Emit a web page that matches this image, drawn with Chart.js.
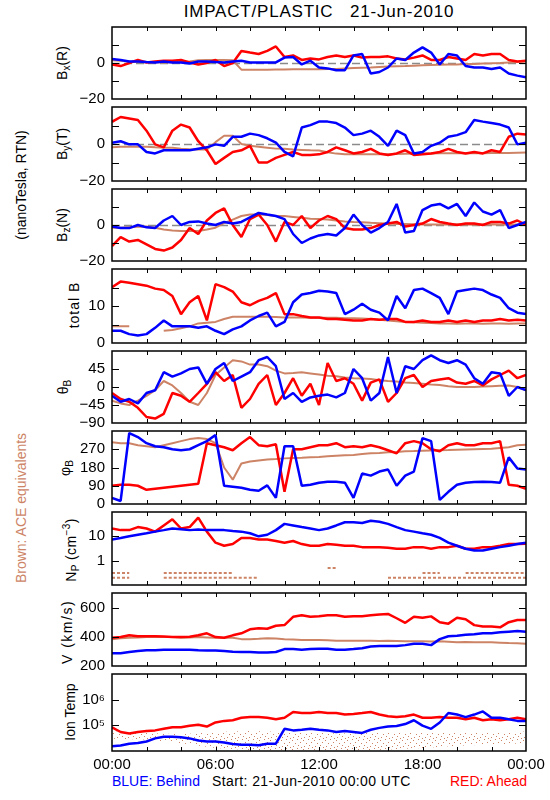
<!DOCTYPE html>
<html><head><meta charset="utf-8">
<script src="https://cdn.jsdelivr.net/npm/chart.js"></script>
<style>
html,body{margin:0;padding:0;background:#fff;}
#wrap{position:relative;width:550px;height:800px;overflow:hidden;background:#fff;font-family:"Liberation Sans",Arial,sans-serif;color:#000;}
canvas{position:absolute;left:0;}
.txt{position:absolute;white-space:pre;font-size:14px;line-height:14px;}
.rot{position:absolute;white-space:pre;font-size:14px;line-height:1;transform:translate(-50%,-50%) rotate(-90deg);}
.rot sub{font-size:10px;vertical-align:-3px;line-height:0;}
.rot sup{font-size:10px;vertical-align:6px;line-height:0;}
</style></head><body>
<div id="wrap">
<div class="txt" style="left:112px;width:414px;top:3px;font-size:17px;line-height:18px;text-align:center;letter-spacing:0.8px;">IMPACT/PLASTIC   21-Jun-2010</div>
<div class="rot" style="left:21px;top:185px;">(nanoTesla, RTN)</div>
<div class="rot" style="left:21px;top:508px;color:rgb(205,132,102);">Brown: ACE equivalents</div>
<div class="rot" style="left:62px;top:63px;">B<sub>x</sub>(R)</div>
<div class="rot" style="left:62px;top:144px;">B<sub>y</sub>(T)</div>
<div class="rot" style="left:62px;top:225px;">B<sub>z</sub>(N)</div>
<div class="rot" style="left:74px;top:305px;letter-spacing:1px;">total B</div>
<div class="rot" style="left:63px;top:387px;">θ<sub>B</sub></div>
<div class="rot" style="left:65px;top:468px;">φ<sub>B</sub></div>
<div class="rot" style="left:71px;top:550px;letter-spacing:0.4px;">N<sub>P</sub> (cm<sup>−3</sup>)</div>
<div class="rot" style="left:67px;top:632px;letter-spacing:1.5px;">V (km/s)</div>
<div class="rot" style="left:70px;top:712px;">Ion Temp</div>
<div class="txt" style="left:112px;top:774px;color:#0000ff;">BLUE: Behind</div>
<div class="txt" style="left:212px;top:774px;letter-spacing:0.4px;">Start: 21-Jun-2010 00:00 UTC</div>
<div class="txt" style="left:450px;top:774px;color:#ff0000;">RED: Ahead</div>
</div>
<script>
// ---- time axis (hours since 21-Jun-2010 00:00 UTC) ----
const HRS=[0,0.5,1,1.5,2,2.5,3,3.5,4,4.5,5,5.5,6,6.5,7,7.5,8,8.5,9,9.5,10,10.5,11,11.5,12,12.5,13,13.5,14,14.5,15,15.5,16,16.5,17,17.5,18,18.5,19,19.5,20,20.5,21,21.5,22,22.5,23,23.5,24];
const HRS2=[0,2,4,6,8,10,12,14,16,18,20,22,24];
const X_TICK_HOURS=[2,4,6,8,10,12,14,16,18,20,22];
const X_LABEL_HOURS=[0,6,12,18,24];
const X_LABELS=['00:00','06:00','12:00','18:00','00:00'];

// ---- Bx (R) nT ----
const bxBehind=[2.2,1.7,0.8,0.8,0.5,0.3,0.8,0.3,0.3,-0.3,0.8,0.8,0.5,0.3,0.8,1.3,0.3,0.3,0.3,0.3,3,3.3,-0.8,1.3,-2.5,-3,-4,-4,4.2,5,-5.8,-5,-2.5,2.5,1.7,5.8,8.7,5.8,-0.8,5,4.2,-1.7,-2.5,-2.5,-3.3,-2.5,-5.8,-7,-8];
const bxAhead=[-0.8,-1.7,0,1.7,0.3,0.8,1.3,1.3,1.7,0.3,-0.8,0,1.7,-1.7,0,6.7,5.8,5,6.7,9.2,3.3,4.2,1.7,2.5,2,3.3,4.2,3.3,4.2,3,3.3,3.3,3.7,2.5,2,3,4.2,1.7,1.7,3.3,2.5,1.7,5,4.2,5,5,1.7,0.8,1.3];
const bxACE=[1.5,1.2,0.8,0.6,0.5,0.4,0.3,0.4,0.5,0.8,1.5,1.6,1.7,1.6,1.5,-3.7,-3.7,-3.7,-3.7,-3.6,-3.6,-3.5,-3.5,-3.5,-3.5,-3.4,-3.3,-3,-2.8,-2.6,-2.5,-2.2,-2,-1.8,-1.7,-1.5,-1.3,-1.1,-1,-0.9,-0.8,-0.6,-0.5,-0.3,-0.2,0,0.3,0.5,0.8];
// ---- By (T) nT ----
const byBehind=[0.7,1.5,-0.2,-0.2,-4.3,-5.1,-3.4,-3.4,-3.4,-3.4,-2.6,-1.8,-0.2,-1,3.9,3.9,5.6,4.8,3.1,0.7,-4.3,-6.7,8.9,10.2,12.1,12.1,11.3,8.9,4.8,5.6,7.2,3.9,-1,7.2,4.8,-5.1,-4.3,-1,0.7,3.9,4.8,6.4,13,12.1,11.3,10.5,8.9,-0.2,0.7];
const byAhead=[12,14.6,13.8,13,7.2,-0.2,-1.8,7.2,10.5,8.9,1.5,-3.4,-10.8,-7.5,-4.3,-3.4,-1,-10,-10,-7.5,-5.9,-4.3,-5.9,-5.9,-5.6,-4.3,-1.8,-3.4,-5.1,-4.3,-2.6,-5.1,-5.9,-5.1,-3.4,-5.9,-5.6,-5.1,-4.3,-2.6,-4.3,-5.1,-4.3,-5.1,-3.4,-4.3,3.9,5.6,5.2];
const byACE=[-1.8,-1.5,-1.5,-1.5,-1.5,-1.8,-2,-2,-2.5,-2.8,-3,-3,1,4.5,4.5,0,-1,-1.5,-2,-2.5,-2.6,-3,-3.2,-3.4,-3.5,-4.5,-5.2,-5.6,-5.6,-5.6,-5.6,-5.5,-5.5,-5.4,-5.3,-5.2,-5.1,-5.1,-5,-5,-5,-5,-5,-5,-4.9,-4.9,-4.8,-4.7,-4.6];
// ---- Bz (N) nT ----
const bzBehind=[-0.8,-1.7,-1.7,0,-1.3,-1.7,2.5,5,0,1.7,2,0.8,0,1.7,0.8,1.7,4.2,6.7,5.8,5,3.3,-5,-10,-7.5,-5.8,-5,-5.8,-1.7,5.8,0,-4.2,-1.7,1.7,11.7,-4.2,-3.3,8.3,10.8,11.7,9.2,11.7,5,12.5,7.5,5.8,8.3,-1.7,0,1.7];
const bzAhead=[-11.7,-6.7,-9.2,-8.3,-10.8,-13.3,-14.2,-12.5,-8.3,-1.7,-5,2.5,6.7,9.2,0,-6.7,3.3,5.8,0,-9.2,1.7,0,5,-1.7,2.5,5,3.3,-1.7,-2.5,-2.5,-1.7,0,0.8,1.7,-0.8,0,0.8,3.3,1.7,0.8,0,0.8,0.8,0,1.7,1.7,0.8,2.5,0];
const bzACE=[-1.5,-1.5,-1.2,-1,-0.8,-1.5,-2.5,-3,-3.3,-3.3,-3.3,-2.5,-1.5,1,3,5,5.8,5.8,5.5,5,5,4.5,4,3.5,3.3,3,2.5,2,1.7,1.5,1.2,1,0.8,0.6,0.5,0.4,0.3,0.3,0.3,0.3,0.4,0.3,0.2,0.3,0.4,0.3,0.2,0.3,0.4];
// ---- total B nT ----
const totBehind=[3.3,3.3,2.4,2,2.4,4.1,6.1,4.5,4.5,4.5,4.1,4.5,3.3,2.4,3.7,4.5,6.1,7.3,8.2,4.5,5.7,11,13.1,13.5,14.1,13.9,13.5,7.8,9,10.6,9,8.2,6.1,12.7,9.4,14.3,14.7,13.5,12.2,7.8,13.9,14.3,14.7,14.3,13.1,12.2,9.4,8.2,7.8];
const totAhead=[15.1,16.6,16.3,15.9,15.5,14.7,14.3,12.7,7.8,11,12.7,6.1,15.9,15.1,13.9,11,10.2,11.4,12.2,13.5,7.8,7.8,7.3,6.9,6.9,6.5,6.5,6.3,6.1,6.1,6.5,6.3,6.5,6.5,5.7,5.7,6.1,5.7,5.7,6.1,5.7,6.1,5.7,6.1,6.1,6.5,6.1,6.3,6.1];
const totACE=[4.5,4.5,4.5,null,null,null,3.3,3.5,4,4.5,5.3,5.5,5.7,6.5,7.1,7.1,7.1,7.1,7.1,7,6.9,6.9,6.9,6.8,6.8,6.8,6.8,6.7,6.7,6.6,6.5,6.3,6.1,5.9,5.7,5.6,5.5,5.4,5.3,5.3,5.2,5.3,5.3,5.2,5.3,5.3,5.2,5.3,5.3];
// ---- theta_B deg ----
const thBehind=[-22,-37,-30,-41,-15,-8,37,26,34,45,49,8,45,60,15,26,37,67,75,52,-30,-15,-37,-26,-22,-19,-26,-15,45,22,-34,-15,75,-15,52,45,67,79,67,60,67,56,22,8,37,34,-22,0,-8];
const thAhead=[-15,-30,-37,-52,-75,-79,-67,-15,-22,-37,-15,8,37,15,30,-52,-30,8,30,-45,-15,22,-22,8,-45,60,15,22,8,-34,11,19,-37,-15,22,30,0,15,19,22,11,8,15,4,19,30,41,22,30];
const thACE=[-34,-41,-45,-34,-22,-8,15,4,-15,-37,-45,-15,30,49,67,64,56,56,52,41,34,35,37,34,31,28,27,24,22,21,20,17,15,14,11,10,8,6,5,2,0,0,0,1,2,3,4,0,-8];
// ---- phi_B deg ----
const phBehind=[30,15,350,330,300,285,280,270,265,270,290,310,340,90,85,80,70,65,92,30,285,285,90,95,105,110,110,105,30,150,140,160,170,90,140,160,325,310,20,60,95,105,108,110,108,105,230,175,170];
const phAhead=[90,95,95,90,70,75,80,85,90,95,100,300,290,280,265,300,330,290,285,295,60,270,270,280,290,290,300,280,285,280,290,280,265,250,300,310,300,270,260,290,300,290,290,300,300,310,95,90,75];
const phACE=[305,300,300,290,285,280,290,300,310,320,325,320,300,180,120,200,210,215,220,222,225,227,228,230,232,235,238,240,242,246,250,252,255,257,260,261,263,264,265,266,268,269,270,271,272,276,280,290,292];
// ---- Np cm^-3 ----
const npBehind=[7.4,8.6,10,11.6,13.4,15.6,18,21,19.7,18,19.2,18,18,18,16.5,15.6,13.4,10,11.6,18,32.5,28,24,21,18,21,28,38,38,35.6,43.7,40,32.5,24,18,15.6,13.4,11.6,8.6,5.5,4.1,3.1,2.6,2.6,3.1,3.6,4.1,4.8,5.5];
const npAhead=[21,18,18,24,21,15.6,28,50,21,24,58.5,15.6,5.5,4.1,4.8,8.6,8.6,7.4,7.4,6.4,5.5,6.4,4.8,4.1,4.1,4.8,4.5,4.1,4.1,3.6,3.6,3.6,3.4,3.1,3.1,3.6,3.6,3.1,3.6,3.6,4.1,3.1,3.1,3.6,3.6,4.1,4.8,4.8,5];
const npACEhi=[0.31,0.31,0.31,null,null,null,0.31,0.31,0.31,0.31,0.31,0.31,0.31,0.31,0.31,null,null,null,null,null,null,null,null,null,null,0.5,0.5,null,null,null,null,null,null,null,null,null,0.31,0.31,0.31,null,null,0.31,0.31,0.31,0.31,0.31,0.31,0.31,0.31];
const npACElo=[0.2,0.2,0.2,null,null,null,0.2,0.2,0.2,0.2,0.2,0.2,0.2,0.2,0.2,0.2,0.2,0.2,null,null,null,null,null,null,null,null,null,null,null,null,null,null,0.2,0.2,0.2,0.2,0.2,0.2,0.2,0.2,0.2,0.2,0.2,0.2,0.2,0.2,0.2,0.2,0.2];
// ---- V km/s ----
const vBehind=[288,288,296,302,308,308,312,312,312,312,308,306,306,302,298,296,296,292,292,296,316,316,312,316,318,318,312,312,316,322,333,337,337,337,343,353,353,343,384,404,408,414,418,424,424,431,435,439,435];
const vAhead=[394,398,410,404,404,404,402,398,398,400,410,424,398,394,410,424,451,459,455,476,480,537,547,537,541,547,547,537,541,541,547,553,557,527,496,537,530,540,500,490,530,520,480,470,470,465,500,515,515];
const vACE=[384,390,394,396,398,398,398,398,394,396,398,396,394,394,394,384,384,386,390,388,384,382,378,378,378,376,373,373,373,373,373,372,373,372,369,369,369,368,369,366,363,364,363,362,363,360,357,355,353];
// ---- Ion temperature K ----
const tBehind=[15300,16300,19200,20400,23500,31000,35900,35900,34000,31000,25600,23500,23500,21600,18700,17700,17700,16700,19200,19200,73200,63500,67200,73200,67200,63500,55000,59800,55000,50500,67200,79600,89300,94500,112000,158000,97000,73200,129000,303000,263000,209000,263000,349000,198000,198000,172000,149000,149000];
const tAhead=[84300,55000,47700,55000,59800,63500,73200,84300,84300,97000,106000,89300,129000,149000,158000,198000,209000,209000,198000,172000,198000,330000,303000,303000,330000,303000,303000,263000,279000,303000,330000,263000,228000,209000,228000,263000,198000,198000,209000,198000,198000,172000,198000,158000,172000,158000,172000,198000,172000];
const tACElo=[30000,28000,20000,13000,11000,10500,10500,10500,11500,13000,16000,18000,20000];
const tACEhi=[58000,50000,45000,55000,60000,55000,50000,48000,52000,55000,55000,50000,58000];

// ---- styling ----
const RED='#ff0000', BLUE='#0000ff', BROWN='rgb(205,132,102)', ZERO='#8a8a8a';
const FONT='"Liberation Sans", Arial, sans-serif';
const PL=112, PR=526, CW=550;
const MINUS='\u2212';
Chart.defaults.font.family=FONT;

function pts(xs,ys){return xs.map((x,i)=>({x:x,y:ys[i]}));}
function ln(ys,color,w,order,extra){
  return Object.assign({data:pts(HRS,ys),borderColor:color,backgroundColor:color,borderWidth:w,pointRadius:0,
    tension:0,spanGaps:false,clip:0,order:order,fill:false,borderJoinStyle:'bevel'},extra||{});
}
function speckle(){
  const c=document.createElement('canvas');c.width=11;c.height=9;
  const g=c.getContext('2d');g.fillStyle=BROWN;
  [[0,0],[6,1],[3,3],[9,4],[1,6],[7,7],[4,8]].forEach(p=>g.fillRect(p[0],p[1],1,1));
  return g.createPattern(c,'repeat');
}
const numFmt=v=>(v<0?MINUS+Math.abs(v):String(v));
const supFmt=v=>({100000:'10\u2075',1000000:'10\u2076'}[v]||'');

function panel(p){
  const pad=12, xl=p.xlabels?40:0;
  const cv=document.createElement('canvas');
  const h=p.bottom-p.top+2*pad+xl;
  cv.width=CW;cv.height=h;
  cv.style.top=(p.top-pad)+'px';cv.style.width=CW+'px';cv.style.height=h+'px';
  document.getElementById('wrap').appendChild(cv);
  const deco={id:'deco',
    beforeDatasetsDraw(ch){
      if(!p.zero)return;
      const ctx=ch.ctx,a=ch.chartArea,y=ch.scales.y;
      const py=Math.round(y.getPixelForValue(0))+0.5;
      ctx.save();ctx.strokeStyle=ZERO;ctx.lineWidth=1.3;ctx.setLineDash([8,4]);
      ctx.beginPath();ctx.moveTo(a.left,py);ctx.lineTo(a.right,py);ctx.stroke();ctx.restore();
    },
    afterDraw(ch){
      const ctx=ch.ctx,a=ch.chartArea,x=ch.scales.x,y=ch.scales.y;
      ctx.save();ctx.strokeStyle='#000';ctx.lineWidth=1;ctx.beginPath();
      X_TICK_HOURS.forEach(v=>{const px=Math.round(x.getPixelForValue(v))+0.5;
        ctx.moveTo(px,a.top);ctx.lineTo(px,a.top+4);ctx.moveTo(px,a.bottom);ctx.lineTo(px,a.bottom-4);});
      p.marks.forEach(v=>{const py=Math.round(y.getPixelForValue(v))+0.5;
        ctx.moveTo(a.left,py);ctx.lineTo(a.left+7,py);ctx.moveTo(a.right,py);ctx.lineTo(a.right-7,py);});
      ctx.stroke();
      ctx.lineWidth=1.5;ctx.strokeRect(a.left,a.top,a.right-a.left,a.bottom-a.top);
      ctx.restore();
    }};
  new Chart(cv,{type:'line',data:{datasets:p.datasets},
    options:{responsive:false,animation:false,devicePixelRatio:1,events:[],
      layout:{padding:{top:pad,bottom:pad,left:0,right:CW-PR}},
      plugins:{legend:{display:false},tooltip:{enabled:false},title:{display:false}},
      scales:{
        x:{type:'linear',min:0,max:24,display:!!p.xlabels,
          grid:{display:false,drawTicks:false},border:{display:false},
          afterBuildTicks:s=>{s.ticks=X_LABEL_HOURS.map(v=>({value:v}));},
          afterFit:s=>{s.height=xl;},
          ticks:{autoSkip:false,maxRotation:0,padding:5,color:'#000',font:{family:FONT,size:15},
            callback:(v)=>{const i=X_LABEL_HOURS.indexOf(v);return i<0?'':X_LABELS[i];}}},
        y:{type:p.log?'logarithmic':'linear',min:p.min,max:p.max,
          grid:{display:false,drawTicks:false},border:{display:false},
          afterBuildTicks:s=>{s.ticks=p.labels.map(v=>({value:v}));},
          afterFit:s=>{s.width=PL;},
          ticks:{autoSkip:false,padding:7,color:'#000',font:{family:FONT,size:15},callback:(v)=>p.fmt(v)}}
      }},
    plugins:[deco]});
}

panel({top:23,bottom:103,min:-20,max:20,labels:[-20,0],marks:[-10,0,10],zero:true,fmt:numFmt,
  datasets:[ln(bxACE,BROWN,2,3),ln(bxAhead,RED,2.5,2),ln(bxBehind,BLUE,2.5,1)]});
panel({top:103,bottom:185,min:-20,max:20,labels:[-20,0],marks:[-10,0,10],zero:true,fmt:numFmt,
  datasets:[ln(byACE,BROWN,2,3),ln(byAhead,RED,2.5,2),ln(byBehind,BLUE,2.5,1)]});
panel({top:185,bottom:265,min:-20,max:20,labels:[-20,0],marks:[-10,0,10],zero:true,fmt:numFmt,
  datasets:[ln(bzACE,BROWN,2,3),ln(bzAhead,RED,2.5,2),ln(bzBehind,BLUE,2.5,1)]});
panel({top:265,bottom:347,min:0,max:20,labels:[0,10],marks:[5,10,15],fmt:numFmt,
  datasets:[ln(totACE,BROWN,2,3),ln(totAhead,RED,2.5,2),ln(totBehind,BLUE,2.5,1)]});
panel({top:347,bottom:427,min:-90,max:90,labels:[-90,-45,0,45],marks:[-45,0,45],fmt:numFmt,
  datasets:[ln(thACE,BROWN,2,3),ln(thAhead,RED,2.5,2),ln(thBehind,BLUE,2.5,1)]});
panel({top:427,bottom:508,min:0,max:360,labels:[0,90,180,270],marks:[90,180,270],fmt:numFmt,
  datasets:[ln(phACE,BROWN,2,3),ln(phAhead,RED,2.5,2),ln(phBehind,BLUE,2.5,1)]});
panel({top:508,bottom:589,min:0.1,max:100,log:true,labels:[1,10],marks:[1,10],fmt:v=>String(v),
  datasets:[ln(npACEhi,BROWN,2,3,{borderDash:[3,2]}),ln(npACElo,BROWN,2,3,{borderDash:[3,2]}),
            ln(npAhead,RED,2.5,2),ln(npBehind,BLUE,2.5,1)]});
panel({top:589,bottom:670,min:200,max:700,labels:[200,400,600],marks:[400,600],fmt:numFmt,
  datasets:[ln(vACE,BROWN,2,3),ln(vAhead,RED,2.5,2),ln(vBehind,BLUE,2.5,1)]});
panel({top:670,bottom:751,min:1e4,max:1e7,log:true,labels:[1e5,1e6],marks:[1e5,1e6],fmt:supFmt,xlabels:true,
  datasets:[
    {data:pts(HRS2,tACElo),borderWidth:0,pointRadius:0,borderColor:'rgba(0,0,0,0)',fill:false,order:4,clip:0},
    {data:pts(HRS2,tACEhi),borderWidth:0,pointRadius:0,borderColor:'rgba(0,0,0,0)',backgroundColor:speckle(),fill:'-1',order:3,clip:0},
    ln(tAhead,RED,2.5,2),ln(tBehind,BLUE,2.5,1)]});
</script>
</body></html>
